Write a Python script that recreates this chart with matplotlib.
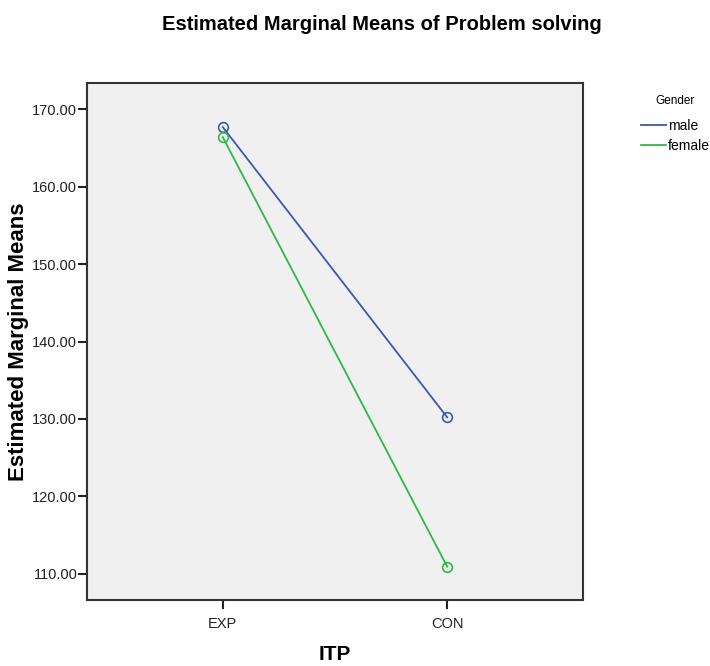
import matplotlib
matplotlib.use('Agg')
import matplotlib.pyplot as plt
from matplotlib.lines import Line2D

plt.rcParams['font.family'] = ['Liberation Sans', 'DejaVu Sans']

# dados
grupos = ['EXP', 'CON']
male = [167.7, 130.2]
female = [166.4, 110.9]
yticks = [110, 120, 130, 140, 150, 160, 170]

cor_male = '#3e58ac'
cor_female = '#2eb848'

fig = plt.figure(figsize=(7.10, 6.66), dpi=100)
ax = fig.add_axes([87/710, 66/666, 496/710, 517/666])
ax.set_facecolor('#f0f0f0')

x = list(range(len(grupos)))
ax.plot(x, male, color=cor_male, linewidth=1.3, marker='o', markersize=7,
        markerfacecolor='none', markeredgewidth=1.2)
ax.plot(x, female, color=cor_female, linewidth=1.3, marker='o', markersize=7,
        markerfacecolor='none', markeredgewidth=1.2)

ax.set_xlim(-0.605, 1.605)
ax.set_ylim(106.6, 173.4)
ax.set_xticks(x)
ax.set_xticklabels(grupos)
ax.set_yticks(yticks)
ax.set_yticklabels([f'{v:.2f}' for v in yticks])
ax.tick_params(axis='both', labelsize=10.5, colors='#222222', length=6.5, width=1.5)
ax.tick_params(axis='y', pad=0.5)
ax.tick_params(axis='x', pad=6)
for s in ax.spines.values():
    s.set_linewidth(1.5)
    s.set_color('#333333')

ax.set_ylabel('Estimated Marginal Means', fontsize=16, fontweight='bold',
              va='center')
ax.yaxis.set_label_coords((19 - 87) / 496, 0.5)
ax.set_xlabel('ITP', fontsize=15, fontweight='bold', va='center')
ax.xaxis.set_label_coords(0.5, (600 - 655) / 517)
fig.text(382/710, 1 - 25/666, 'Estimated Marginal Means of Problem solving',
         ha='center', va='center', fontsize=14.5, fontweight='bold')

# legenda
fig.text(675/710, 1 - 101/666, 'Gender', ha='center', va='center', fontsize=8.5)
handles = [Line2D([], [], color=cor_male, linewidth=1.3),
           Line2D([], [], color=cor_female, linewidth=1.3)]
fig.legend(handles, ['male', 'female'], loc='upper left',
           bbox_to_anchor=(641/710, 1 - 119/666), frameon=False,
           fontsize=10, handlelength=1.8, handletextpad=0.15, labelspacing=0.45,
           borderpad=0, borderaxespad=0)

fig.savefig('out.png', dpi=100)
